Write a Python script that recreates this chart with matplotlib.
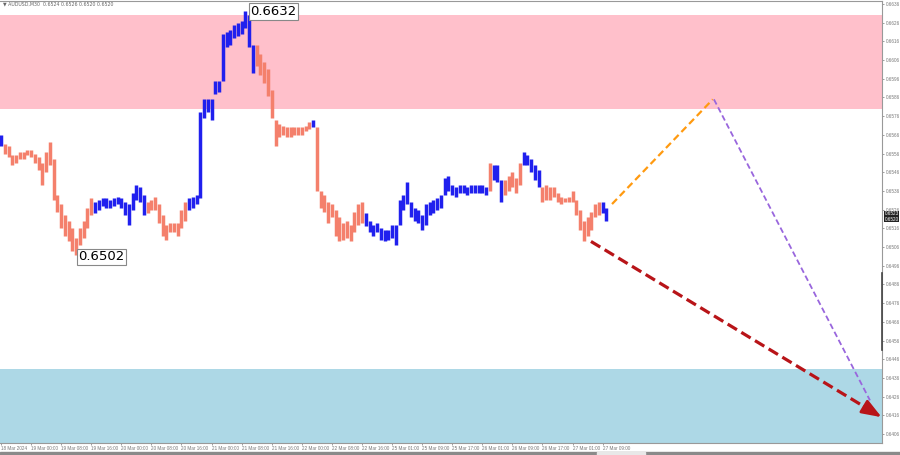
import matplotlib
matplotlib.use('Agg')
import matplotlib.pyplot as plt
import matplotlib.transforms as mtransforms
from matplotlib.patches import Rectangle

# AUDUSD hourly bars, 18 Mar 2024 .. 27 Mar 2024
highs = [
    0.6566, 0.6561, 0.6560, 0.6555, 0.6555, 0.6557, 0.6557, 0.6558, 0.6558, 0.6556,
    0.6554, 0.6551, 0.6557, 0.6562, 0.6553, 0.6534, 0.6529, 0.6523, 0.6520, 0.6516,
    0.6511, 0.6516, 0.6520, 0.6527, 0.6532, 0.6530, 0.6531, 0.6532, 0.6532, 0.6531,
    0.6532, 0.6533, 0.6532, 0.6530, 0.6529, 0.6535, 0.6539, 0.6538, 0.6534, 0.6530,
    0.6531, 0.6533, 0.6529, 0.6523, 0.6518, 0.6519, 0.6519, 0.6519, 0.6526, 0.6530,
    0.6532, 0.6533, 0.6534, 0.6578, 0.6585, 0.6585, 0.6585, 0.6595, 0.6595, 0.6620,
    0.6621, 0.6622, 0.6625, 0.6626, 0.6627, 0.6632, 0.6630, 0.6614, 0.6614, 0.6609,
    0.6605, 0.6601, 0.6590, 0.6574, 0.6572, 0.6571, 0.6570, 0.6570, 0.6570, 0.6570,
    0.6570, 0.6571, 0.6573, 0.6574, 0.6570, 0.6536, 0.6534, 0.6530, 0.6529, 0.6526,
    0.6522, 0.6519, 0.6520, 0.6518, 0.6525, 0.6529, 0.6530, 0.6524, 0.6520, 0.6518,
    0.6519, 0.6516, 0.6515, 0.6515, 0.6518, 0.6518, 0.6531, 0.6534, 0.6541, 0.6530,
    0.6527, 0.6526, 0.6523, 0.6529, 0.6530, 0.6531, 0.6532, 0.6534, 0.6543, 0.6544,
    0.6539, 0.6538, 0.6539, 0.6539, 0.6538, 0.6539, 0.6539, 0.6539, 0.6539, 0.6538,
    0.6551, 0.6550, 0.6550, 0.6542, 0.6542, 0.6544, 0.6546, 0.6543, 0.6551, 0.6557,
    0.6555, 0.6553, 0.6550, 0.6547, 0.6538, 0.6539, 0.6538, 0.6538, 0.6535, 0.6533,
    0.6532, 0.6533, 0.6536, 0.6531, 0.6526, 0.6520, 0.6522, 0.6525, 0.6529, 0.6530,
    0.6530, 0.6527,
]
lows = [
    0.6560, 0.6556, 0.6554, 0.6550, 0.6551, 0.6553, 0.6553, 0.6555, 0.6554, 0.6551,
    0.6547, 0.6539, 0.6546, 0.6550, 0.6531, 0.6525, 0.6516, 0.6512, 0.6509, 0.6504,
    0.6502, 0.6507, 0.6511, 0.6516, 0.6523, 0.6524, 0.6526, 0.6528, 0.6527, 0.6527,
    0.6528, 0.6529, 0.6527, 0.6523, 0.6518, 0.6526, 0.6531, 0.6530, 0.6523, 0.6524,
    0.6526, 0.6526, 0.6519, 0.6512, 0.6510, 0.6514, 0.6514, 0.6512, 0.6516, 0.6520,
    0.6526, 0.6527, 0.6529, 0.6532, 0.6575, 0.6578, 0.6574, 0.6588, 0.6589, 0.6595,
    0.6613, 0.6614, 0.6618, 0.6619, 0.6620, 0.6623, 0.6613, 0.6599, 0.6603, 0.6598,
    0.6594, 0.6587, 0.6575, 0.6560, 0.6565, 0.6566, 0.6565, 0.6565, 0.6566, 0.6566,
    0.6566, 0.6568, 0.6569, 0.6570, 0.6536, 0.6527, 0.6525, 0.6519, 0.6522, 0.6512,
    0.6509, 0.6510, 0.6511, 0.6509, 0.6514, 0.6518, 0.6519, 0.6517, 0.6514, 0.6512,
    0.6514, 0.6510, 0.6509, 0.6510, 0.6511, 0.6507, 0.6518, 0.6526, 0.6529, 0.6522,
    0.6520, 0.6519, 0.6515, 0.6518, 0.6523, 0.6524, 0.6526, 0.6527, 0.6534, 0.6536,
    0.6534, 0.6533, 0.6535, 0.6535, 0.6534, 0.6535, 0.6535, 0.6535, 0.6535, 0.6534,
    0.6536, 0.6542, 0.6541, 0.6530, 0.6534, 0.6536, 0.6538, 0.6535, 0.6539, 0.6550,
    0.6550, 0.6546, 0.6542, 0.6538, 0.6530, 0.6531, 0.6531, 0.6533, 0.6530, 0.6529,
    0.6530, 0.6530, 0.6530, 0.6523, 0.6515, 0.6509, 0.6512, 0.6515, 0.6522, 0.6523,
    0.6524, 0.6520,
]

# wave colouring: first bar, last bar, direction
waves = [
    (0, 0, 'up'), (1, 24, 'down'), (25, 38, 'up'), (39, 49, 'down'),
    (50, 67, 'up'), (68, 82, 'down'), (83, 83, 'up'), (84, 96, 'down'),
    (97, 129, 'up'), (130, 130, 'down'), (131, 133, 'up'), (134, 138, 'down'),
    (139, 143, 'up'), (144, 159, 'down'), (160, 161, 'up'),
]

time_labels = [
    '18 Mar 2024', '19 Mar 00:00', '19 Mar 08:00', '19 Mar 16:00', '20 Mar 00:00',
    '20 Mar 08:00', '20 Mar 16:00', '21 Mar 00:00', '21 Mar 08:00', '21 Mar 16:00',
    '22 Mar 00:00', '22 Mar 08:00', '22 Mar 16:00', '25 Mar 01:00', '25 Mar 09:00',
    '25 Mar 17:00', '26 Mar 01:00', '26 Mar 09:00', '26 Mar 17:00', '27 Mar 01:00',
    '27 Mar 09:00',
]
bars_per_label = 8

sell_zone = (0.6580, 0.6630)
buy_zone = (0.6390, 0.6441)

# forecast paths (bar index, price)
path_up = [(162.5, 0.6529), (189.3, 0.6585)]
path_down = [(189.6, 0.6585), (231.1, 0.6424)]
main_target = [(156.9, 0.6509), (234.2, 0.6415)]

bid_labels = [('0.6523', 0.65237), ('0.6520', 0.65210)]

UP = '#2020ee'
DOWN = '#f4806c'
SCALE_FONT = 'Liberation Sans'

fig = plt.figure(figsize=(9, 4.55), dpi=100)
ax = fig.add_axes([0, 12 / 455, 882 / 900, 442 / 455])

ax.axhspan(*sell_zone, color='#ffc0cb', lw=0, zorder=0)
ax.axhspan(*buy_zone, color='#add8e6', lw=0, zorder=0)

for a, b, d in waves:
    idx = list(range(a, b + 1))
    ax.vlines(idx, [lows[i] for i in idx], [highs[i] for i in idx],
              colors=UP if d == 'up' else DOWN, linewidth=2.5, zorder=3)

# extreme labels
i_hi = highs.index(max(highs))
i_lo = lows.index(min(lows))
box = dict(boxstyle='square,pad=0.12', fc='white', ec='#888888', lw=0.8)
ax.annotate(f'{max(highs):.4f}', xy=(i_hi, max(highs)), xytext=(3.5, 0),
            textcoords='offset points', ha='left', va='center',
            fontsize=9.5, color='black', bbox=box, zorder=5)
ax.annotate(f'{min(lows):.4f}', xy=(i_lo, min(lows)), xytext=(1.5, -1.5),
            textcoords='offset points', ha='left', va='center',
            fontsize=9.5, color='black', bbox=box, zorder=5)

# forecast lines
(x0, y0), (x1, y1) = path_up
ax.plot([x0, x1], [y0, y1], color='#ff9a10', lw=1.6, dashes=(3.2, 1.8), zorder=4)
(x0, y0), (x1, y1) = path_down
ax.plot([x0, x1], [y0, y1], color='#9966dd', lw=1.3, dashes=(3.2, 1.8), zorder=4)
(x0, y0), (x1, y1) = main_target
xb = x1 - 0.06 * (x1 - x0)
yb = y1 - 0.06 * (y1 - y0)
ax.plot([x0, xb], [y0, yb], color='#b81418', lw=2.3, dashes=(3.4, 1.6), zorder=4)
ax.annotate('', xy=(x1, y1), xytext=(xb, yb),
            arrowprops=dict(arrowstyle='-|>,head_length=0.85,head_width=0.32',
                            color='#b81418', lw=2.0, mutation_scale=14,
                            shrinkA=0, shrinkB=0), zorder=5)

ax.set_xlim(-0.27, 234.3)
ax.set_ylim(0.64012, 0.66376)

ticks = [0.6636 - 0.001 * k for k in range(24)]
ax.set_yticks(ticks)
ax.set_yticklabels([f'{t:.4f}' for t in ticks], fontfamily=SCALE_FONT)
ax.yaxis.tick_right()
ax.tick_params(axis='y', direction='out', length=1.5, width=0.5, pad=1.0,
               labelsize=3.3, colors='#777777')

xt = [k * bars_per_label for k in range(len(time_labels))]
ax.set_xticks(xt)
ax.set_xticklabels(time_labels, ha='left', fontfamily=SCALE_FONT)
ax.tick_params(axis='x', direction='out', length=1.5, width=0.5, pad=0.8,
               labelsize=3.3, colors='#777777')

for s in ['top', 'right', 'bottom']:
    ax.spines[s].set_color('#999999')
    ax.spines[s].set_linewidth(0.8)
ax.spines['left'].set_visible(False)

# bid/ask boxes on price scale
trans = mtransforms.blended_transform_factory(ax.transAxes, ax.transData)
for txt, p in bid_labels:
    ax.text(1.003, p, txt, transform=trans, ha='left', va='center',
            fontsize=3.3, color='white', clip_on=False, fontfamily=SCALE_FONT,
            bbox=dict(boxstyle='square,pad=0.12', fc='#222222', ec='none'))
ax.plot([1, 1], [0.6492, 0.6451], transform=trans, color='#444444', lw=1.2,
        clip_on=False, zorder=6)

fig.text(0.003, 0.991, '\u25bc AUDUSD,M30  0.6524 0.6526 0.6520 0.6520',
         fontsize=3.4, color='#666666', va='center', ha='left')

# terminal tab strip
fig.patches.append(Rectangle((0, 0), 1, 3 / 455, transform=fig.transFigure,
                             color='#8a8a8a', zorder=0))
fig.patches.append(Rectangle((597 / 900, 0), 48 / 900, 3 / 455,
                             transform=fig.transFigure, color='#e8e8e8', zorder=1))

fig.savefig('out.png', dpi=100)
